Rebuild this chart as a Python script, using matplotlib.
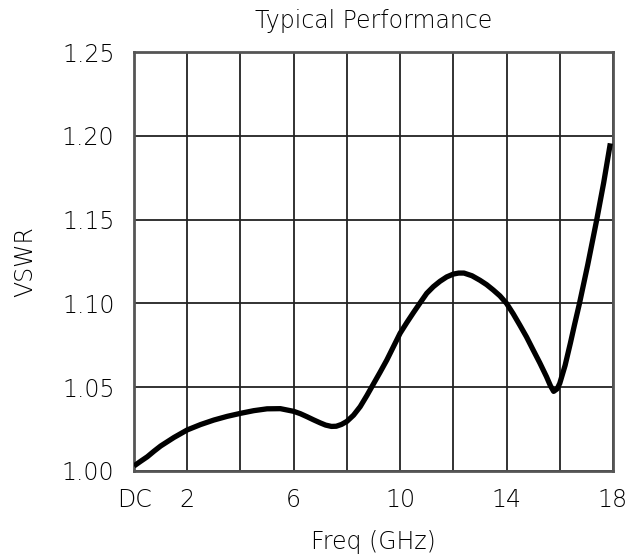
import numpy as np
import matplotlib.pyplot as plt

# values
freq = [0.0, 0.25, 0.5, 0.75, 1.0, 1.5, 2.0, 2.5, 3.0, 3.5, 4.0, 4.5, 5.0,
        5.5, 6.0, 6.25, 6.5, 6.75, 7.0, 7.2, 7.42, 7.6, 7.8, 8.0, 8.25, 8.5,
        8.75, 9.0, 9.25, 9.5, 9.75, 10.0, 10.25, 10.5, 10.75, 11.0, 11.25,
        11.5, 11.75, 12.0, 12.2, 12.4, 12.7, 13.0, 13.25, 13.5, 13.75, 14.0,
        14.25, 14.5, 14.75, 15.0, 15.25, 15.5, 15.65, 15.77, 15.9, 16.0, 16.2,
        16.4, 16.55, 16.74, 17.05, 17.39, 17.65, 17.9]
vswr = [1.003, 1.0058, 1.0085, 1.0118, 1.0149, 1.020, 1.0245, 1.0277, 1.0304,
        1.0326, 1.0344, 1.036, 1.0371, 1.0372, 1.0356, 1.0342, 1.0324, 1.0305,
        1.0287, 1.0274, 1.0266, 1.0267, 1.0278, 1.0296, 1.0333, 1.0384, 1.045,
        1.052, 1.059, 1.0662, 1.0742, 1.0822, 1.0885, 1.0945, 1.1003, 1.106,
        1.110, 1.1132, 1.1158, 1.1175, 1.1181, 1.1181, 1.1165, 1.1138, 1.1112,
        1.108, 1.1045, 1.10, 1.0938, 1.087, 1.080, 1.0722, 1.0645, 1.0563,
        1.0508, 1.0475, 1.0490, 1.0523, 1.063, 1.0764, 1.087, 1.10, 1.123,
        1.15, 1.172, 1.1955]

x_ticks = [0, 2, 4, 6, 8, 10, 12, 14, 16, 18]
x_labels = ['DC', '2', '', '6', '', '10', '', '14', '', '18']
y_ticks = [1.00, 1.05, 1.10, 1.15, 1.20, 1.25]
y_labels = ['1.00', '1.05', '1.10', '1.15', '1.20', '1.25']

plt.rcParams['font.family'] = ['DejaVu Sans']
plt.rcParams['font.weight'] = 'light'
plt.rcParams['axes.titleweight'] = 'light'
plt.rcParams['axes.labelweight'] = 'light'

fig = plt.figure(figsize=(6.43, 5.56), dpi=100)
ax = fig.add_axes([134 / 643, 1 - 471 / 556, (613 - 134) / 643, (471 - 52) / 556])

ax.plot(freq, vswr, color='black', lw=3.8, solid_capstyle='butt',
        solid_joinstyle='round', zorder=3)

ax.set_xlim(0, 18)
ax.set_ylim(1.0, 1.25)
ax.set_xticks(x_ticks)
ax.set_xticklabels(x_labels)
ax.set_yticks(y_ticks)
ax.set_yticklabels(y_labels)
ax.tick_params(length=0, labelsize=17, pad=12)
ax.tick_params(axis='y', pad=14)
ax.grid(True, color='#222222', lw=1.3)
for s in ax.spines.values():
    s.set_color('#555555')
    s.set_linewidth(2)

ax.set_title('Typical Performance', fontsize=17, pad=17)
ax.set_xlabel('Freq (GHz)', fontsize=17, labelpad=13)
ax.set_ylabel('VSWR', fontsize=17, labelpad=18)

fig.savefig('out.png', dpi=100)
